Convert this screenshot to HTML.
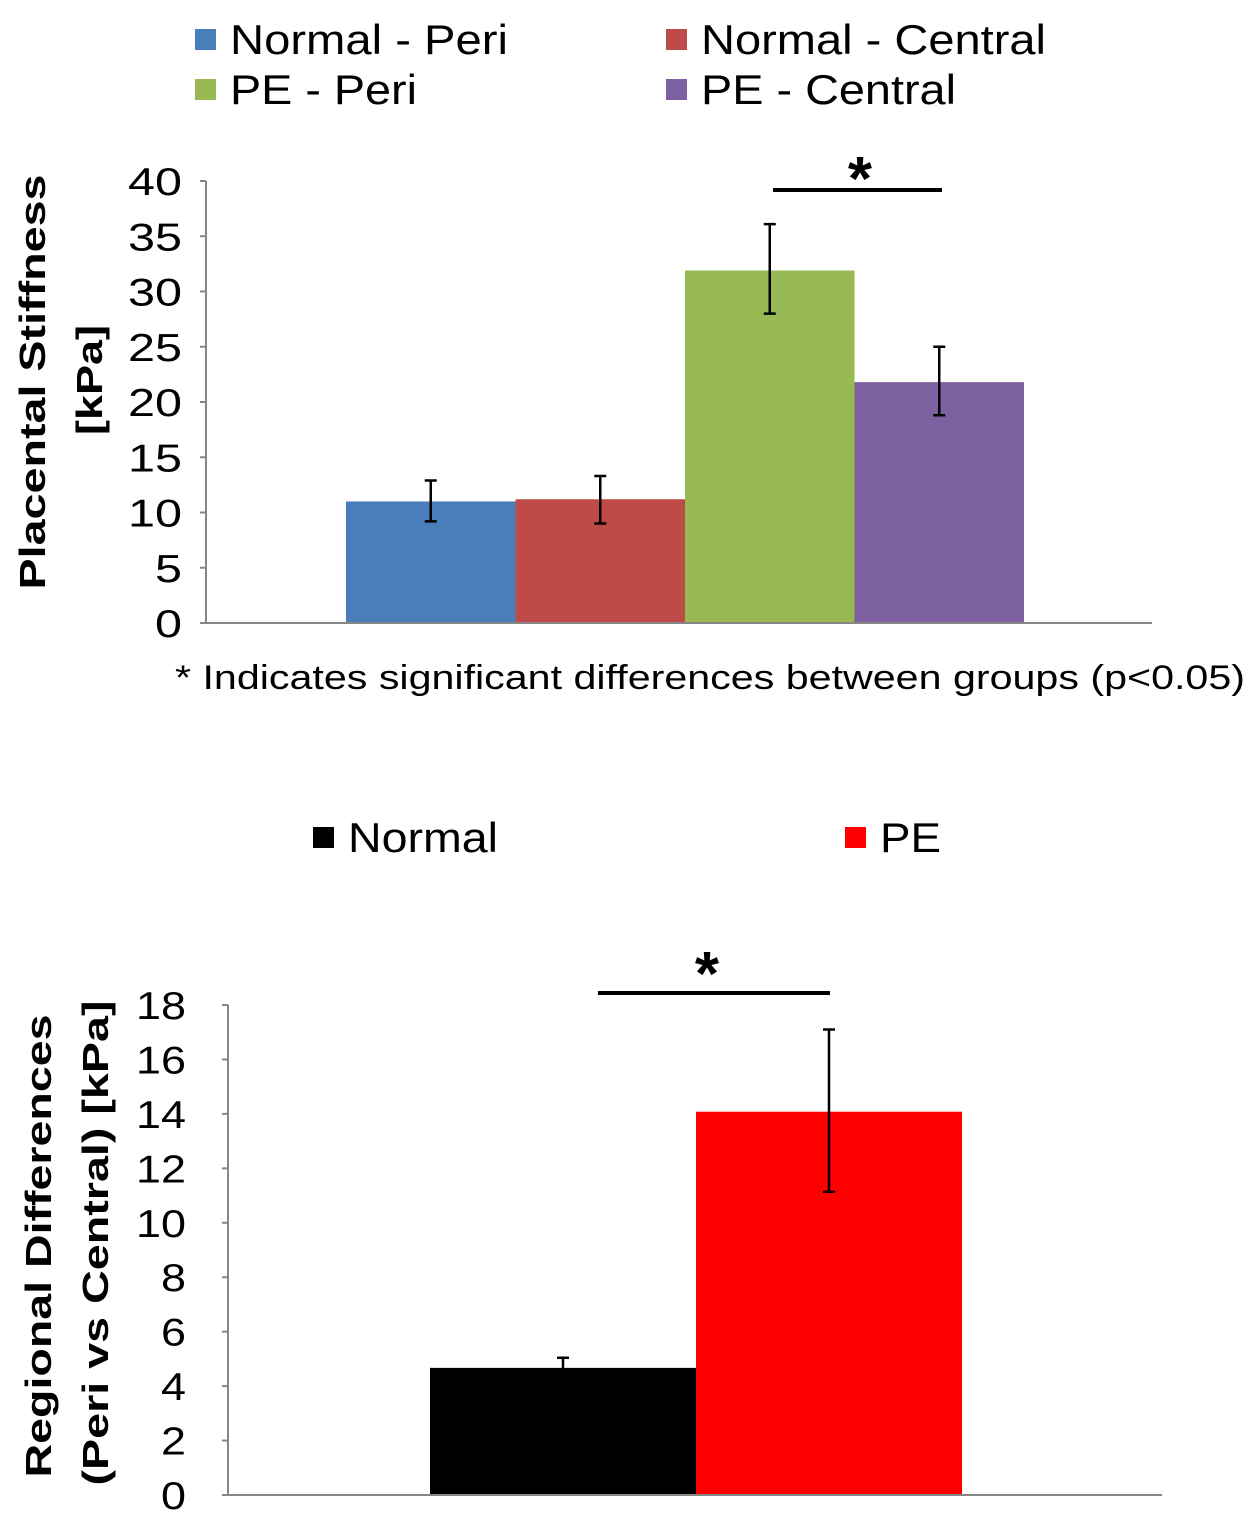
<!DOCTYPE html>
<html><head><meta charset="utf-8"><style>
html,body{margin:0;padding:0;background:#fff;}
svg{display:block;font-family:"Liberation Sans",Arial,sans-serif;}
</style></head><body>
<svg id="fig" width="1260" height="1521"></svg>
<script>
const topCats=["Normal - Peri","Normal - Central","PE - Peri","PE - Central"];
const topVals=[11.0,11.2,31.9,21.8];
const topErrHi=[12.9,13.3,36.1,25.0];
const topErrLo=[9.2,9.0,28.0,18.8];
const topColors=["#4a7ebb","#be4b48","#98b954","#7d60a0"];
const topTicks=[0,5,10,15,20,25,30,35,40];
const botCats=["Normal","PE"];
const botVals=[4.67,14.08];
const botErrHi=[5.04,17.1];
const botErrLo=[4.3,11.14];
const botColors=["#000000","#ff0000"];
const botTicks=[0,2,4,6,8,10,12,14,16,18];

const NS="http://www.w3.org/2000/svg";
const svg=document.getElementById('fig');
function mk(tag,attrs,parent,text){const e=document.createElementNS(NS,tag);for(const k in attrs)e.setAttribute(k,attrs[k]);if(text!==undefined)e.textContent=text;(parent||svg).appendChild(e);return e;}

function chart(o){
  const g=mk('g',{});
  
  
  const y=v=>o.y0-(v-o.ymin)/(o.ymax-o.ymin)*(o.y0-o.y1);
  const bw=(o.bx1-o.bx0)/o.vals.length;
  o.ticks.forEach(t=>{
    const l=mk('line',{x1:o.ax-6,x2:o.ax,y1:y(t),y2:y(t),stroke:'#868686','stroke-width':2},g);
    
    
    const s=String(t);
    const tx=mk('text',{x:o.ax-o.labGap,y:y(t)+14,'text-anchor':'end','font-size':39,fill:'#000',textLength:s.length*o.digitW,lengthAdjust:'spacingAndGlyphs'},g,s);
    
    
  });
  const yl=mk('line',{x1:o.ax,x2:o.ax,y1:y(o.ymin),y2:y(o.ymax),stroke:'#868686','stroke-width':2},g);
  
  
  o.vals.forEach((v,i)=>{
    const x=o.bx0+i*bw;
    const r=mk('rect',{x:x,y:y(v),width:bw,height:y(0)-y(v),fill:o.colors[i]},g);
    
    
    const cx=x+bw/2;
    const eb=mk('path',{d:`M${cx},${y(o.hi[i])}V${y(o.lo[i])}M${cx-6},${y(o.hi[i])}H${cx+6}M${cx-6},${y(o.lo[i])}H${cx+6}`,stroke:'#000','stroke-width':2.5,fill:'none'},g);
    
    
  });
  const xl=mk('line',{x1:o.ax,x2:o.axEnd,y1:y(0),y2:y(0),stroke:'#868686','stroke-width':2},g);
  
  
  const s=mk('line',{x1:o.sig[0],x2:o.sig[1],y1:o.sig[2],y2:o.sig[2],stroke:'#000','stroke-width':4},g);
  
  
  const st=mk('text',{x:o.sig[3],y:o.sig[2]+o.sig[4],'text-anchor':'middle','font-size':62,'font-weight':'bold'},g,'*');
  
  
  o.titles.forEach(t=>{
    const tt=mk('text',{transform:`translate(${t[0]},${t[1]}) rotate(-90)`,'text-anchor':'middle','font-size':36,'font-weight':'bold',textLength:t[3],lengthAdjust:'spacingAndGlyphs'},g,t[2]);
    
    
  });
}
chart({name:'stiffness-chart',cats:topCats,vals:topVals,hi:topErrHi,lo:topErrLo,colors:topColors,ticks:topTicks,
  ymin:0,ymax:40,y0:623,y1:181,ax:206,axEnd:1152,bx0:346,bx1:1024,sig:[773,942,190,860,10],labGap:24,digitW:27,
  titles:[[45,382,'Placental  Stiffness',415],[102,380,'[kPa]',110]]});
chart({name:'regional-difference-chart',cats:botCats,vals:botVals,hi:botErrHi,lo:botErrLo,colors:botColors,ticks:botTicks,
  ymin:0,ymax:18,y0:1495,y1:1005,ax:228,axEnd:1162,bx0:430,bx1:962,sig:[598,830,993,707,2],labGap:42,digitW:25,
  titles:[[51,1246,'Regional Differences',463],[108,1243,'(Peri vs Central) [kPa]',485]]});

function legend(x,y,color,label,fs,w){
  const g=mk('g',{});
  
  
  mk('rect',{x:x,y:y-11,width:21,height:21,fill:color},g);
  mk('text',{x:x+35,y:y+14,'font-size':fs,fill:'#000',textLength:w,lengthAdjust:'spacingAndGlyphs'},g,label);
}
legend(195,40,topColors[0],topCats[0],42,278);
legend(666,40,topColors[1],topCats[1],42,345);
legend(195,90,topColors[2],topCats[2],42,187);
legend(666,90,topColors[3],topCats[3],42,255);
legend(313,838,botColors[0],botCats[0],42,150);
legend(845,838,botColors[1],botCats[1],42,61);
const fn=mk('text',{x:175,y:689,'font-size':34,fill:'#000',textLength:1070,lengthAdjust:'spacingAndGlyphs'},svg,'* Indicates significant differences between groups (p<0.05)');


</script>
</body></html>
